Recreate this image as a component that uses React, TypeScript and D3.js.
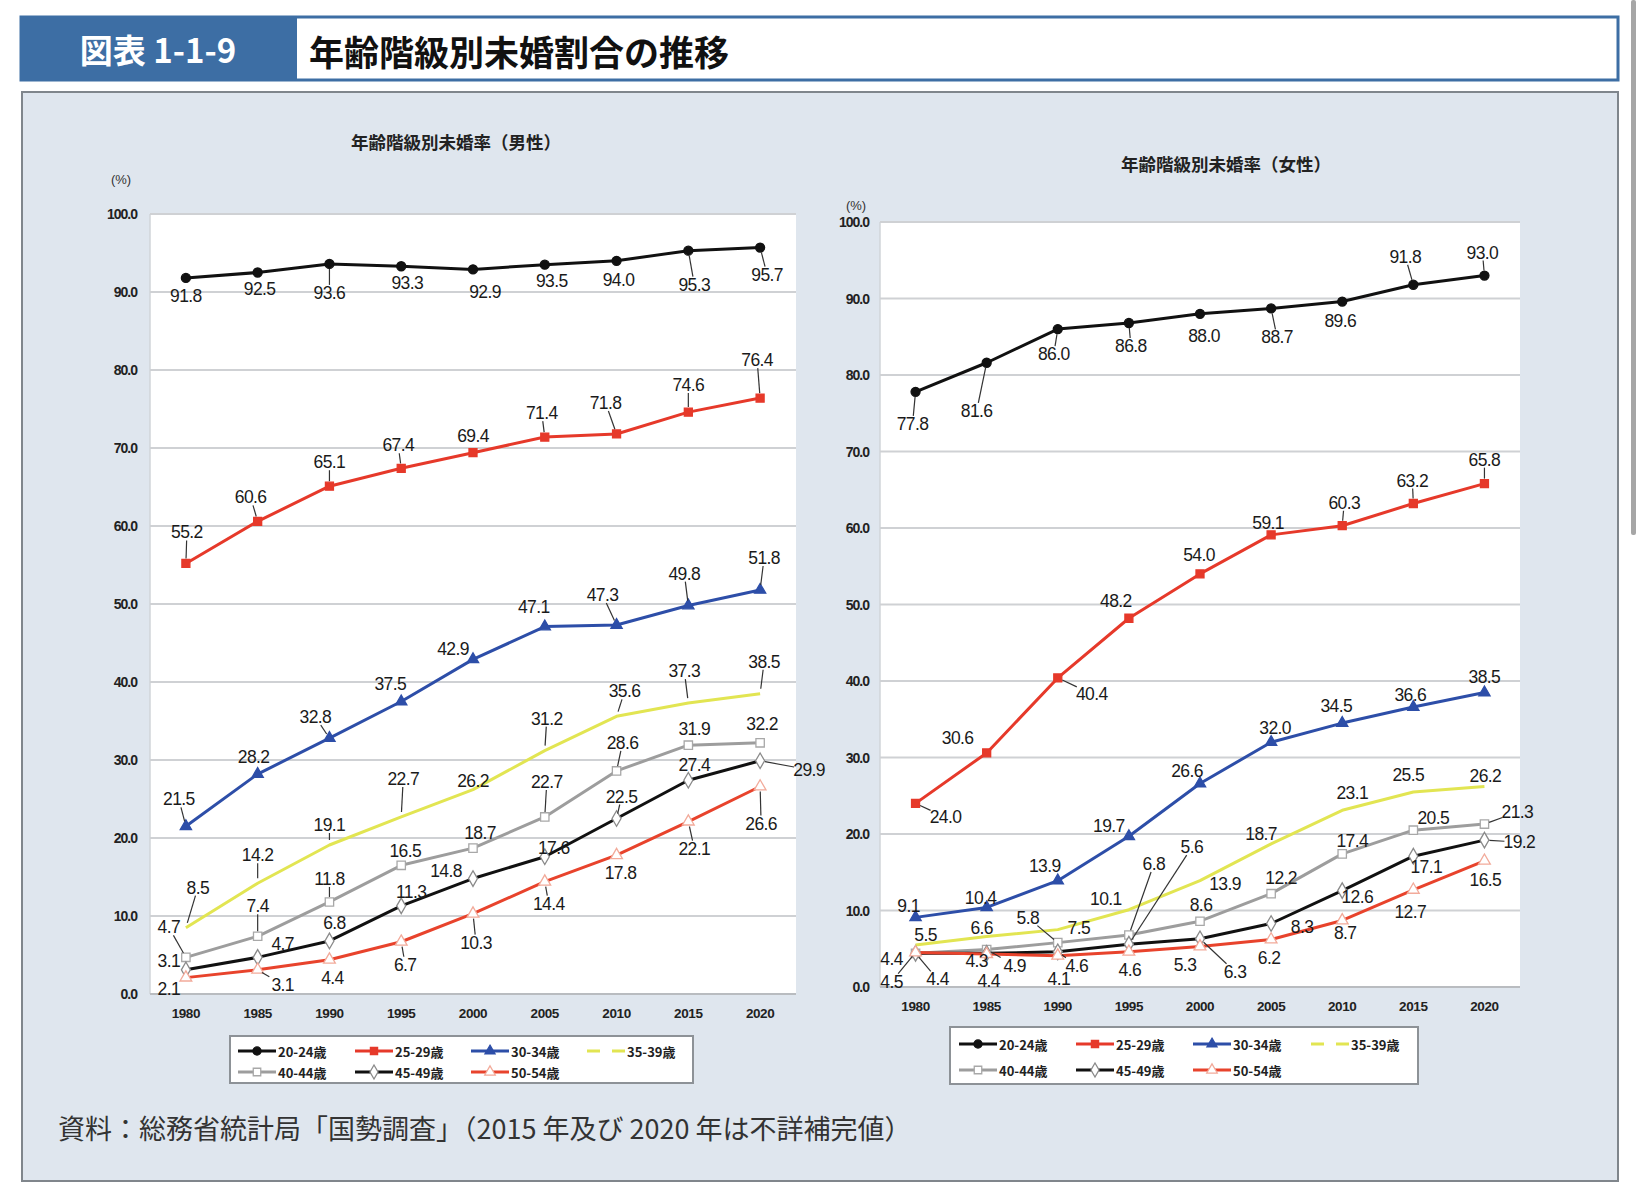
import React from 'react';
import * as d3 from 'd3';

// ---------- data ----------
const YEARS = ['1980', '1985', '1990', '1995', '2000', '2005', '2010', '2015', '2020'];
const SERIES_NAMES = ['20-24歳', '25-29歳', '30-34歳', '35-39歳', '40-44歳', '45-49歳', '50-54歳'];
const Y_TICKS = [0, 10, 20, 30, 40, 50, 60, 70, 80, 90, 100];

const MALE_20_24 = [91.8, 92.5, 93.6, 93.3, 92.9, 93.5, 94.0, 95.3, 95.7];
const MALE_25_29 = [55.2, 60.6, 65.1, 67.4, 69.4, 71.4, 71.8, 74.6, 76.4];
const MALE_30_34 = [21.5, 28.2, 32.8, 37.5, 42.9, 47.1, 47.3, 49.8, 51.8];
const MALE_35_39 = [8.5, 14.2, 19.1, 22.7, 26.2, 31.2, 35.6, 37.3, 38.5];
const MALE_40_44 = [4.7, 7.4, 11.8, 16.5, 18.7, 22.7, 28.6, 31.9, 32.2];
const MALE_45_49 = [3.1, 4.7, 6.8, 11.3, 14.8, 17.6, 22.5, 27.4, 29.9];
const MALE_50_54 = [2.1, 3.1, 4.4, 6.7, 10.3, 14.4, 17.8, 22.1, 26.6];

const FEMALE_20_24 = [77.8, 81.6, 86.0, 86.8, 88.0, 88.7, 89.6, 91.8, 93.0];
const FEMALE_25_29 = [24.0, 30.6, 40.4, 48.2, 54.0, 59.1, 60.3, 63.2, 65.8];
const FEMALE_30_34 = [9.1, 10.4, 13.9, 19.7, 26.6, 32.0, 34.5, 36.6, 38.5];
const FEMALE_35_39 = [5.5, 6.6, 7.5, 10.1, 13.9, 18.7, 23.1, 25.5, 26.2];
const FEMALE_40_44 = [4.4, 4.9, 5.8, 6.8, 8.6, 12.2, 17.4, 20.5, 21.3];
const FEMALE_45_49 = [4.4, 4.4, 4.6, 5.6, 6.3, 8.3, 12.6, 17.1, 19.2];
const FEMALE_50_54 = [4.5, 4.3, 4.1, 4.6, 5.3, 6.2, 8.7, 12.7, 16.5];

const MALE_SERIES = [MALE_20_24, MALE_25_29, MALE_30_34, MALE_35_39, MALE_40_44, MALE_45_49, MALE_50_54];
const FEMALE_SERIES = [FEMALE_20_24, FEMALE_25_29, FEMALE_30_34, FEMALE_35_39, FEMALE_40_44, FEMALE_45_49, FEMALE_50_54];

// label placement: [dx, dy, leader]
const MALE_LABEL_POS = [
  [[0, 18, 0], [2, 16, 0], [0, 29, 1], [6, 17, 0], [12, 23, 0], [7, 16, 0], [2, 19, 0], [6, 34, 1], [7, 27, 1]],
  [[1, -31, 1], [-7, -24, 1], [0, -24, 1], [-3, -23, 1], [0, -17, 0], [-3, -24, 1], [-11, -31, 1], [0, -27, 1], [-3, -38, 1]],
  [[-7, -27, 1], [-4, -17, 0], [-14, -21, 1], [-11, -18, 0], [-20, -10, 0], [-11, -20, 0], [-14, -30, 1], [-4, -32, 1], [4, -32, 1]],
  [[12, -40, 1], [0, -28, 1], [0, -20, 1], [2, -38, 1], [0, -9, 0], [2, -32, 1], [8, -25, 1], [-4, -32, 1], [4, -32, 1]],
  [[-17, -30, 1], [0, -30, 1], [0, -23, 1], [4, -14, 0], [7, -15, 0], [2, -35, 1], [6, -28, 1], [6, -16, 0], [2, -19, 0]],
  [[-17, -9, 0], [25, -13, 0], [5, -18, 0], [10, -14, 0], [-27, -8, 0], [9, -9, 0], [5, -22, 1], [6, -15, 0], [49, 9, 1]],
  [[-17, 11, 0], [25, 15, 1], [3, 18, 0], [4, 23, 1], [3, 29, 1], [4, 22, 1], [4, 18, 0], [6, 27, 1], [1, 37, 1]],
];
const FEMALE_LABEL_POS = [
  [[-3, 32, 1], [-10, 48, 1], [-4, 25, 1], [2, 23, 1], [4, 22, 0], [6, 29, 1], [-2, 19, 0], [-8, -28, 1], [-2, -23, 1]],
  [[30, 14, 1], [-29, -15, 0], [34, 16, 1], [-13, -17, 0], [-1, -19, 0], [-3, -12, 0], [2, -23, 1], [-1, -23, 1], [0, -24, 1]],
  [[-7, -11, 0], [-6, -9, 0], [-13, -15, 0], [-20, -10, 0], [-13, -13, 0], [4, -14, 0], [-6, -17, 0], [-3, -12, 0], [0, -15, 0]],
  [[10, -10, 0], [-5, -9, 0], [21, -2, 0], [-23, -11, 0], [25, 3, 0], [-10, -10, 0], [10, -17, 0], [-5, -17, 0], [1, -11, 0]],
  [[-24, 6, 0], [28, 16, 1], [-30, -25, 1], [25, -71, 1], [1, -16, 0], [10, -16, 0], [10, -13, 0], [20, -12, 0], [33, -12, 1]],
  [[22, 26, 1], [2, 28, 0], [19, 14, 1], [63, -97, 1], [35, 33, 1], [31, 3, 0], [15, 6, 0], [13, 11, 0], [35, 2, 1]],
  [[-24, 29, 1], [-10, 7, 0], [1, 23, 0], [1, 18, 0], [-15, 19, 0], [-2, 18, 0], [3, 13, 0], [-3, 22, 0], [1, 19, 0]],
];

// ---------- styles ----------
const STYLES = [
  { color: '#111111', marker: 'circle', fill: '#111111', stroke: '#111111', size: 64 },
  { color: '#e6392a', marker: 'square', fill: '#e6392a', stroke: '#e6392a', size: 64 },
  { color: '#2d4ea8', marker: 'triangle', fill: '#2d4ea8', stroke: '#2d4ea8', size: 55 },
  { color: '#e2e552', marker: 'none', fill: '#ffffff', stroke: '#ffffff', size: 0 },
  { color: '#9d9d9d', marker: 'square', fill: '#ffffff', stroke: '#a8a8a8', size: 70 },
  { color: '#111111', marker: 'diamond', fill: '#ffffff', stroke: '#8a8a8a', size: 70 },
  { color: '#e8432c', marker: 'triangle', fill: '#ffffff', stroke: '#f2aa9a', size: 60 },
];

const NUM_FONT = '"Liberation Sans", Arial, sans-serif';
const JP_FONT = '"Noto Sans CJK JP", "Noto Sans", sans-serif';

function symbolPath(type: string, size: number) {
  const t =
    type === 'circle' ? d3.symbolCircle :
    type === 'square' ? d3.symbolSquare :
    type === 'triangle' ? d3.symbolTriangle :
    d3.symbolDiamond;
  return d3.symbol().type(t).size(size)() || '';
}

function Marker({ style, x, y }: { style: any; x: number; y: number }) {
  if (style.marker === 'none') return null;
  return (
    <path
      d={symbolPath(style.marker, style.size)}
      transform={`translate(${x},${y})`}
      fill={style.fill}
      stroke={style.stroke}
      strokeWidth={1.3}
    />
  );
}

type ChartProps = {
  series: number[][];
  labels: number[][][];
  left: number; right: number; top: number; bottom: number;
  tickRight: number; xLabelY: number;
  title: string; titleX: number; titleY: number;
  pctX: number; pctY: number;
};

function Chart(p: ChartProps) {
  const x = d3.scalePoint<string>().domain(YEARS).range([p.left, p.right]).padding(0.5);
  const y = d3.scaleLinear().domain([0, 100]).range([p.bottom, p.top]);
  const line = d3.line<number>().x((_, i) => x(YEARS[i]) as number).y((v) => y(v));
  const order = [3, 4, 5, 6, 2, 1, 0];
  return (
    <g>
      <text x={p.titleX} y={p.titleY} textAnchor="middle" dominantBaseline="central"
        fontFamily={JP_FONT} fontWeight={700} fontSize={17.5} fill="#222">{p.title}</text>
      <text x={p.pctX} y={p.pctY} textAnchor="middle" dominantBaseline="central"
        fontFamily={NUM_FONT} fontSize={13} fill="#333">(%)</text>
      <rect x={p.left} y={p.top} width={p.right - p.left} height={p.bottom - p.top} fill="#ffffff" />
      <line x1={p.left} x2={p.left} y1={p.top} y2={p.bottom} stroke="#d0d4d8" strokeWidth={1.5} />
      {Y_TICKS.map((t) => (
        <g key={t}>
          <line x1={p.left} x2={p.right} y1={y(t)} y2={y(t)} stroke={t === 0 ? '#b9bcc0' : '#cfd1d4'} strokeWidth={2} />
          <text x={p.tickRight} y={y(t)} textAnchor="end" dominantBaseline="central"
            fontFamily={NUM_FONT} fontWeight={700} fontSize={14} fill="#222" letterSpacing={-1}>{t.toFixed(1)}</text>
        </g>
      ))}
      {YEARS.map((yr) => (
        <text key={yr} x={x(yr)} y={p.xLabelY} textAnchor="middle" dominantBaseline="central"
          fontFamily={NUM_FONT} fontWeight={700} fontSize={13.5} fill="#222" letterSpacing={-0.4}>{yr}</text>
      ))}
      {order.map((si) => (
        <path key={'l' + si} d={line(p.series[si]) || ''} fill="none"
          stroke={STYLES[si].color} strokeWidth={3} strokeLinejoin="round" />
      ))}
      {order.map((si) => (
        <g key={'m' + si}>
          {p.series[si].map((v, i) => (
            <Marker key={i} style={STYLES[si]} x={x(YEARS[i]) as number} y={y(v)} />
          ))}
        </g>
      ))}
      {p.series.map((vals, si) => (
        <g key={'t' + si}>
          {vals.map((v, i) => {
            const px = x(YEARS[i]) as number;
            const py = y(v);
            const [dx, dy, leader] = p.labels[si][i];
            const lx = px + dx;
            const ly = py + dy;
            let leaderEl = null;
            if (leader) {
              const len = Math.hypot(dx, dy) || 1;
              const sx = px + (dx / len) * 5;
              const sy = py + (dy / len) * 5;
              const t = Math.min(Math.abs(dx) > 0.01 ? 15 / Math.abs(dx) : 99, Math.abs(dy) > 0.01 ? 8 / Math.abs(dy) : 99);
              const ex = lx - dx * t;
              const ey = ly - dy * t;
              leaderEl = <line x1={sx} y1={sy} x2={ex} y2={ey} stroke="#333" strokeWidth={1.2} />;
            }
            return (
              <g key={i}>
                {leaderEl}
                <text x={lx} y={ly} textAnchor="middle" dominantBaseline="central"
                  fontFamily={NUM_FONT} fontSize={17.5} fill="#1a1a1a" letterSpacing={-0.6}>{v.toFixed(1)}</text>
              </g>
            );
          })}
        </g>
      ))}
    </g>
  );
}

function Legend({ x, y, w, h, cols, rows }: { x: number; y: number; w: number; h: number; cols: number[]; rows: number[] }) {
  return (
    <g>
      <rect x={x} y={y} width={w} height={h} fill="#ffffff" stroke="#8d9297" strokeWidth={2} />
      {SERIES_NAMES.map((name, i) => {
        const cx = cols[i % 4];
        const cy = rows[Math.floor(i / 4)];
        const st = STYLES[i];
        return (
          <g key={name}>
            <line x1={cx} x2={cx + 38} y1={cy} y2={cy} stroke={st.color} strokeWidth={3} />
            {st.marker === 'none' ? (
              <rect x={cx + 13} y={cy - 3} width={12} height={6} fill="#ffffff" />
            ) : (
              <Marker style={{ ...st, size: st.size * 0.8 }} x={cx + 19} y={cy} />
            )}
            <text x={cx + 40} y={cy} dominantBaseline="central" fontFamily={JP_FONT}
              fontWeight={700} fontSize={13} fill="#222">{name}</text>
          </g>
        );
      })}
    </g>
  );
}

export default function App() {
  return (
    <svg width={1640} height={1197} style={{ position: 'absolute', left: 0, top: 0, background: '#ffffff' }}>
      {/* header */}
      <rect x={21} y={17} width={1597} height={63} fill="#ffffff" stroke="#3d6ea4" strokeWidth={3} />
      <rect x={21} y={17} width={276} height={63} fill="#3d6ea4" />
      <text x={158} y={49} textAnchor="middle" dominantBaseline="central" fontFamily={JP_FONT}
        fontWeight={700} fontSize={33} fill="#ffffff">図表 1-1-9</text>
      <text x={309} y={50} dominantBaseline="central" fontFamily={JP_FONT}
        fontWeight={700} fontSize={35} fill="#111111">年齢階級別未婚割合の推移</text>
      {/* scrollbar artifact */}
      <rect x={1631} y={0} width={5} height={535} rx={2} fill="#a6a6a6" />
      {/* panel */}
      <rect x={22} y={92} width={1596} height={1089} fill="#dfe6ee" stroke="#80868c" strokeWidth={2} />
      <Chart
        series={MALE_SERIES} labels={MALE_LABEL_POS}
        left={150} right={796} top={214} bottom={994}
        tickRight={137} xLabelY={1013}
        title="年齢階級別未婚率（男性）" titleX={456} titleY={141}
        pctX={121} pctY={179}
      />
      <Chart
        series={FEMALE_SERIES} labels={FEMALE_LABEL_POS}
        left={880} right={1520} top={222} bottom={987}
        tickRight={869} xLabelY={1006}
        title="年齢階級別未婚率（女性）" titleX={1226} titleY={163}
        pctX={856} pctY={205}
      />
      <Legend x={230} y={1036} w={463} h={47} cols={[238, 355, 471, 587]} rows={[1051, 1072]} />
      <Legend x={950} y={1027} w={468} h={57} cols={[959, 1076, 1193, 1311]} rows={[1044, 1070]} />
      <text x={58} y={1127} dominantBaseline="central" fontFamily={JP_FONT} fontSize={27} fill="#333333">
        資料：総務省統計局「国勢調査」（2015 年及び 2020 年は不詳補完値）
      </text>
    </svg>
  );
}
